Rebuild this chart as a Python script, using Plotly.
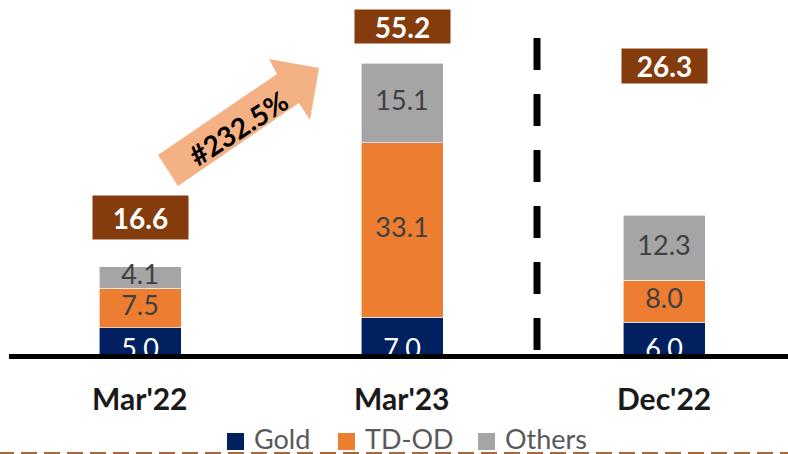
import plotly.graph_objects as go

categories = ["Mar'22", "Mar'23", "Dec'22"]
gold = [5.0, 7.0, 6.0]
td_od = [7.5, 33.1, 8.0]
others = [4.1, 15.1, 12.3]
totals = [16.6, 55.2, 26.3]
growth_label = "#232.5%"
series_names = ["Gold", "TD-OD", "Others"]
series_colors = ["#002060", "#ED7D31", "#A5A5A5"]

# pixel -> data helpers (decorations only)
W, H = 788, 454
L, B = 10, 100
X0PX, XPX = 140.0, 262.0      # px of x=0, px per unit
Y0PX, YPX = 354.0, 5.27       # px of y=0, px per unit
def dx(px): return (px - X0PX) / XPX
def dy(py): return (Y0PX - py) / YPX
def px_x(px): return (px - L) / (W - L)
def px_y(py): return (Y0PX - py) / Y0PX

xs = list(range(len(categories)))
FONT = "Lato"
seg_font = dict(family=FONT, size=27, color="#404040")

fig = go.Figure()
for name, vals, col in zip(series_names, [gold, td_od, others], series_colors):
    fig.add_trace(go.Bar(x=xs, y=vals, name=name, marker=dict(color=col, line=dict(color="white", width=0.6)),
                         width=0.313, hoverinfo="skip", showlegend=False))

# segment labels
fig.add_trace(go.Scatter(x=xs, y=[dy(351)] * 3, text=[f"{v:.1f}" for v in gold], mode="text",
                         textfont=dict(family=FONT, size=27, color="white"), showlegend=False, cliponaxis=False))
fig.add_trace(go.Scatter(x=xs, y=[g + t / 2 for g, t in zip(gold, td_od)], text=[f"{v:.1f}" for v in td_od],
                         mode="text", textfont=seg_font, showlegend=False))
fig.add_trace(go.Scatter(x=xs, y=[g + t + o / 2 for g, t, o in zip(gold, td_od, others)],
                         text=[f"{v:.1f}" for v in others], mode="text", textfont=seg_font, showlegend=False))

shapes = []
# baseline
shapes.append(dict(type="line", xref="paper", yref="paper", x0=px_x(9), x1=1, y0=px_y(356.5), y1=px_y(356.5),
                   line=dict(color="black", width=5), layer="above"))
# vertical dashed separator
shapes.append(dict(type="line", xref="x", yref="y", x0=dx(537), x1=dx(537), y0=dy(38), y1=dy(352),
                   line=dict(color="black", width=7, dash="32px,24px")))
# arrow
pts = [(158, 155), (277, 74), (269, 59), (319, 68), (310, 120), (299, 103), (178, 186)]
path = "M " + " L ".join(f"{dx(px):.4f},{dy(py):.4f}" for px, py in pts) + " Z"
shapes.append(dict(type="path", xref="x", yref="y", path=path, fillcolor="#F4B183", line=dict(width=0)))
# bottom dashed brown line
shapes.append(dict(type="line", xref="paper", yref="paper", x0=px_x(-2), x1=px_x(790), y0=px_y(453),
                   y1=px_y(453), line=dict(color="#A9683A", width=2, dash="16px,7px")))

annotations = []
box_y = [dy(217), dy(26.5), dy(66)]
box_w = [95, 95, 85]
box_h = [43, 33, 34]
for x, t, yy, w, h in zip(xs, totals, box_y, box_w, box_h):
    annotations.append(dict(x=x, y=yy, text=f"<b>{t:.1f}</b>", showarrow=False, bgcolor="#843C0C",
                            width=w, height=h, borderpad=0, font=dict(family=FONT, size=28, color="white"),
                            xanchor="center", yanchor="middle"))
for x, c in zip(xs, categories):
    annotations.append(dict(x=x, y=0, yref="y", text=f"<b>{c}</b>", showarrow=False, yanchor="middle",
                            yshift=-44, font=dict(family=FONT, size=30, color="#1a1a1a")))
annotations.append(dict(x=dx(238), y=dy(128), text=f"<b>{growth_label}</b>", showarrow=False, textangle=-33,
                        font=dict(family=FONT, size=28, color="black")))

# manual legend
leg_sq_x = [227, 338, 478]
for name, col, sx in zip(series_names, series_colors, leg_sq_x):
    shapes.append(dict(type="rect", xref="paper", yref="paper", x0=px_x(sx), x1=px_x(sx + 17),
                       y0=px_y(450), y1=px_y(433), fillcolor=col, line=dict(width=0)))
    annotations.append(dict(xref="paper", yref="paper", x=px_x(sx + 25), y=px_y(437.5), text=name,
                            showarrow=False, xanchor="left", yanchor="middle", height=24,
                            font=dict(family=FONT, size=27, color="#595959")))

fig.update_layout(
    width=W, height=H, margin=dict(l=L, r=0, t=0, b=B),
    barmode="stack", plot_bgcolor="white", paper_bgcolor="white",
    xaxis=dict(range=[dx(10), dx(788)], visible=False, fixedrange=True),
    yaxis=dict(range=[0, dy(0)], visible=False, fixedrange=True),
    shapes=shapes, annotations=annotations,
    showlegend=False,
)
fig.write_html("out.html", config={"displayModeBar": False},
               post_script="document.body.style.margin='0';document.body.style.overflow='hidden';")
